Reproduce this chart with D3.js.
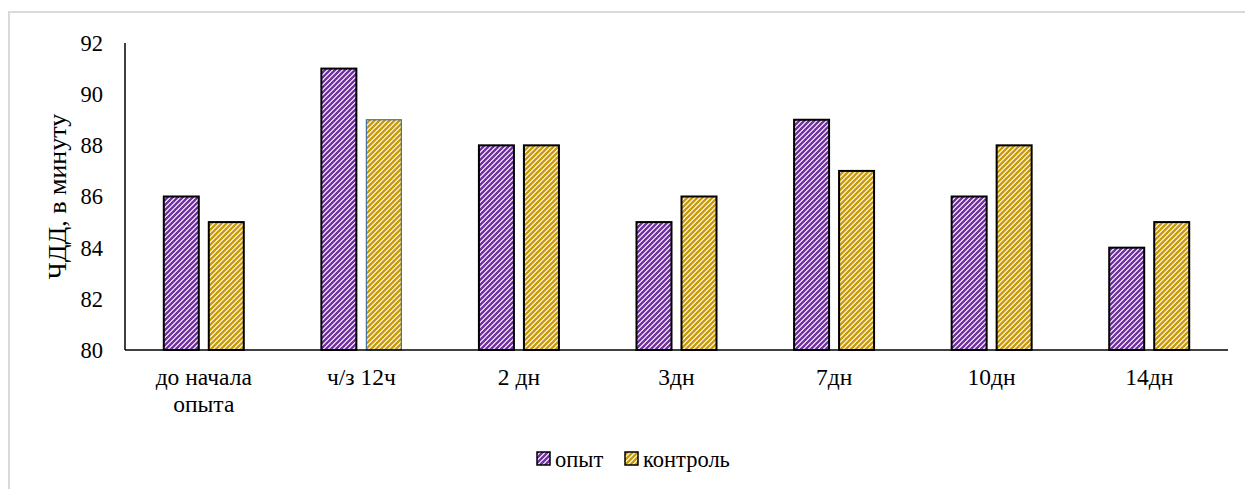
<!DOCTYPE html>
<html>
<head>
<meta charset="utf-8">
<script src="https://cdn.jsdelivr.net/npm/d3@7"></script>
<style>
  html, body { margin: 0; padding: 0; background: #fff; }
</style>
</head>
<body>
<svg id="chart" width="1245" height="489"></svg>
<script>
// Breathing rate (ЧДД) per minute, experimental vs. control group
const categories = [["до начала", "опыта"], ["ч/з 12ч"], ["2 дн"], ["3дн"], ["7дн"], ["10дн"], ["14дн"]];
const seriesNames = ["опыт", "контроль"];
const opyt = [86, 91, 88, 85, 89, 86, 84];
const kontrol = [85, 89, 88, 86, 87, 88, 85];
const yTicks = [80, 82, 84, 86, 88, 90, 92];
const colors = ["#7030A0", "#C99A06"];

const W = 1245, H = 489;
const margin = { left: 125, right: 17, top: 43, bottom: 139 };
const FONT = "'Liberation Serif', 'Times New Roman', serif";
const svg = d3.select("#chart").style("font-family", FONT);

// light frame around the chart area
svg.append("path")
  .attr("d", `M9,${H} V12 H${W}`)
  .attr("fill", "none").attr("stroke", "#d9d9d9").attr("stroke-width", 2);

// diagonal hatch patterns
const defs = svg.append("defs");
colors.forEach((c, i) => {
  const p = defs.append("pattern")
    .attr("id", "hatch" + i)
    .attr("patternUnits", "userSpaceOnUse")
    .attr("width", 5).attr("height", 5);
  p.append("rect").attr("width", 5).attr("height", 5).attr("fill", "#fff");
  p.append("path")
    .attr("d", "M-1.25,1.25 L1.25,-1.25 M0,5 L5,0 M3.75,6.25 L6.25,3.75")
    .attr("stroke", c).attr("stroke-width", 2.4);
});

const x = d3.scaleBand()
  .domain(d3.range(categories.length))
  .range([margin.left, W - margin.right]);
const y = d3.scaleLinear()
  .domain([80, 92])
  .range([H - margin.bottom, margin.top]);

const barW = 35, innerGap = 10;

// y tick labels
svg.append("g")
  .selectAll("text")
  .data(yTicks)
  .join("text")
  .attr("x", 103)
  .attr("y", d => y(d))
  .attr("dy", "0.35em")
  .attr("text-anchor", "end")
  .attr("font-size", 22.5)
  .attr("fill", "#000")
  .text(d => d);

// y axis title
svg.append("text")
  .attr("transform", `translate(66,${(y(80) + y(92)) / 2}) rotate(-90)`)
  .attr("text-anchor", "middle")
  .attr("font-size", 26)
  .text("ЧДД, в минуту");

// bars
const series = [opyt, kontrol];
series.forEach((vals, si) => {
  svg.append("g")
    .selectAll("rect")
    .data(vals)
    .join("rect")
    .attr("x", (d, i) => x(i) + x.bandwidth() / 2 + (si === 0 ? -innerGap / 2 - barW : innerGap / 2))
    .attr("y", d => y(d))
    .attr("width", barW)
    .attr("height", d => y(80) - y(d))
    .attr("fill", `url(#hatch${si})`)
    .attr("stroke", (d, i) => (si === 1 && i === 1) ? "#41719C" : "#000")
    .attr("stroke-width", (d, i) => (si === 1 && i === 1) ? 1.2 : 2);
});

// axes lines
svg.append("line")
  .attr("x1", margin.left).attr("x2", margin.left)
  .attr("y1", y(92)).attr("y2", y(80))
  .attr("stroke", "#000").attr("stroke-width", 1.5);
svg.append("line")
  .attr("x1", margin.left).attr("x2", W - margin.right)
  .attr("y1", y(80)).attr("y2", y(80))
  .attr("stroke", "#000").attr("stroke-width", 1.5);

// category labels
const cat = svg.append("g")
  .selectAll("text")
  .data(categories)
  .join("text")
  .attr("x", (d, i) => x(i) + x.bandwidth() / 2)
  .attr("y", 385)
  .attr("text-anchor", "middle")
  .attr("font-size", 23.5);
cat.each(function(lines) {
  d3.select(this).selectAll("tspan")
    .data(lines)
    .join("tspan")
    .attr("x", d3.select(this).attr("x"))
    .attr("dy", (d, k) => k === 0 ? 0 : 27)
    .text(d => d);
});

// legend
const legend = svg.append("g");
const legendX = [537, 625];
seriesNames.forEach((n, i) => {
  legend.append("rect")
    .attr("x", legendX[i]).attr("y", 452)
    .attr("width", 13).attr("height", 13)
    .attr("fill", `url(#hatch${i})`)
    .attr("stroke", "#000").attr("stroke-width", 1.5);
  legend.append("text")
    .attr("x", legendX[i] + 18).attr("y", 467)
    .attr("font-size", 22.5)
    .text(n);
});
</script>
</body>
</html>
